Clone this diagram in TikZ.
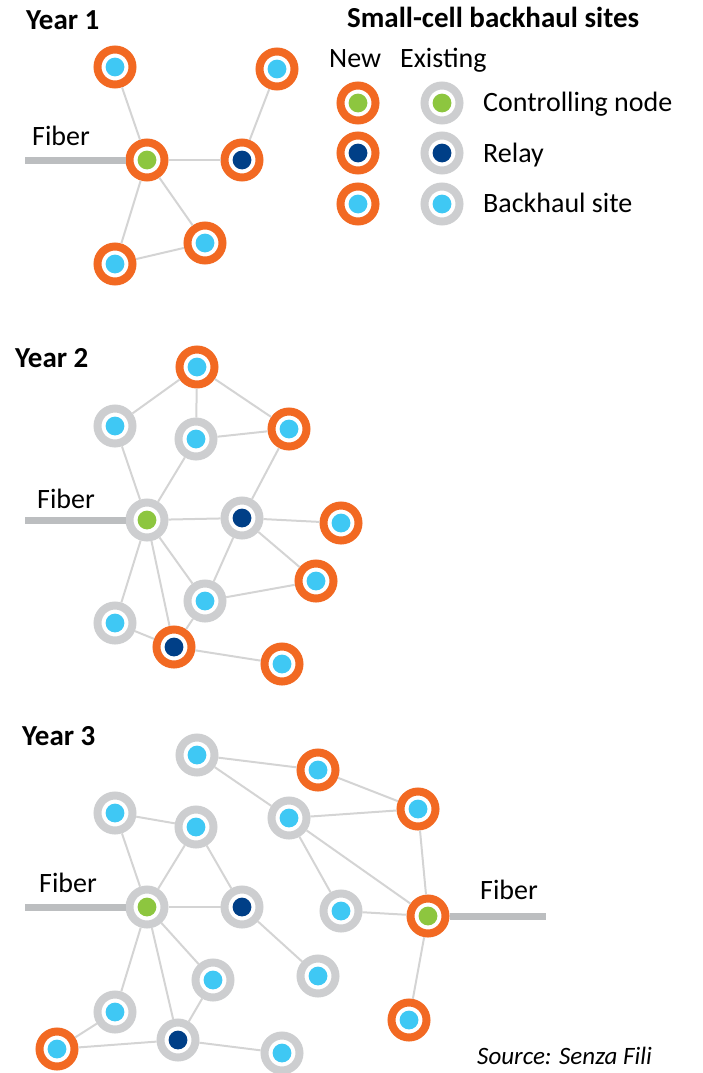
\documentclass[tikz,border=0pt]{standalone}
\usepackage{fontspec}
\setmainfont{Carlito}

\definecolor{ringnew}{HTML}{F26922}
\definecolor{ringold}{HTML}{CDCED0}
\definecolor{dotctrl}{HTML}{8DC63F}
\definecolor{dotrelay}{HTML}{003F87}
\definecolor{dotsite}{HTML}{3FC8F4}
\definecolor{linkgray}{HTML}{D4D4D4}
\definecolor{fibergray}{HTML}{BCBEC0}

\begin{document}
\begin{tikzpicture}[
        x=1pt, y=-1pt,
        % --- Site styles ---
        site/.style={
            circle, inner sep=0pt, minimum size=35pt,
            line width=8pt, fill=white
        },
        newsite/.style={
            site, draw=ringnew,
            path picture={\fill[#1] (path picture bounding box.center) circle (9.4pt);}
        },
        oldsite/.style={
            site, draw=ringold,
            path picture={\fill[#1] (path picture bounding box.center) circle (9.4pt);}
        },
        % --- Line styles ---
        link/.style={draw=linkgray, line width=2pt},
        fiber/.style={draw=fibergray, line width=7pt},
        % --- Text styles ---
        title/.style={anchor=base west, inner sep=0pt, font=\fontsize{29}{34}\selectfont\bfseries},
        label/.style={anchor=base west, inner sep=0pt, font=\fontsize{28}{33}\selectfont},
    ]

    \useasboundingbox (0,0) rectangle (702,1073);

    % ===== Year 1 =====
    \node[title] (t1) at (26, 30) {Year 1};
    \node[label] (f1) at (32, 145) {Fiber};

    \node[newsite=dotsite]  (y1a) at (115, 67)  {};
    \node[newsite=dotsite]  (y1b) at (277, 69)  {};
    \node[newsite=dotctrl]  (y1c) at (147, 160) {};
    \node[newsite=dotrelay] (y1r) at (242, 160) {};
    \node[newsite=dotsite]  (y1d) at (205, 243) {};
    \node[newsite=dotsite]  (y1e) at (115, 264) {};

    \coordinate (y1f) at (25, 160);
    \draw[fiber] (y1f) -- (y1c.west);

    \draw[link] (y1c) -- (y1a);
    \draw[link] (y1c) -- (y1r);
    \draw[link] (y1r) -- (y1b);
    \draw[link] (y1c) -- (y1d);
    \draw[link] (y1c) -- (y1e);
    \draw[link] (y1d) -- (y1e);

    % ===== Legend =====
    \node[title] (lgt) at (347, 28) {Small-cell backhaul sites};
    \node[label] (lgn) at (329, 67) {New};
    \node[label] (lge) at (400, 67) {Existing};

    \node[newsite=dotctrl]  (lgnc) at (358, 103) {};
    \node[newsite=dotrelay] (lgnr) at (358, 153) {};
    \node[newsite=dotsite]  (lgns) at (358, 204) {};
    \node[oldsite=dotctrl]  (lgoc) at (442, 103) {};
    \node[oldsite=dotrelay] (lgor) at (442, 153) {};
    \node[oldsite=dotsite]  (lgos) at (442, 204) {};

    \node[label] (lgc) at (483, 111) {Controlling node};
    \node[label] (lgr) at (483, 162) {Relay};
    \node[label] (lgs) at (483, 212) {Backhaul site};

    % ===== Year 2 =====
    \node[title] (t2) at (15, 367) {Year 2};
    \node[label] (f2) at (37, 508) {Fiber};

    \node[newsite=dotsite]  (y2t) at (197, 367) {};
    \node[oldsite=dotsite]  (y2a) at (115, 426) {};
    \node[oldsite=dotsite]  (y2b) at (196, 439) {};
    \node[newsite=dotsite]  (y2n) at (289, 429) {};
    \node[oldsite=dotctrl]  (y2c) at (147, 520) {};
    \node[oldsite=dotrelay] (y2r) at (242, 518) {};
    \node[newsite=dotsite]  (y2m) at (341, 523) {};
    \node[newsite=dotsite]  (y2o) at (316, 581) {};
    \node[oldsite=dotsite]  (y2d) at (205, 601) {};
    \node[oldsite=dotsite]  (y2e) at (115, 623) {};
    \node[newsite=dotrelay] (y2s) at (174, 647) {};
    \node[newsite=dotsite]  (y2p) at (282, 664) {};

    \coordinate (y2f) at (25, 520);
    \draw[fiber] (y2f) -- (y2c.west);

    \draw[link] (y2t) -- (y2a);
    \draw[link] (y2t) -- (y2b);
    \draw[link] (y2t) -- (y2n);
    \draw[link] (y2b) -- (y2n);
    \draw[link] (y2a) -- (y2c);
    \draw[link] (y2b) -- (y2c);
    \draw[link] (y2n) -- (y2r);
    \draw[link] (y2c) -- (y2r);
    \draw[link] (y2r) -- (y2m);
    \draw[link] (y2r) -- (y2o);
    \draw[link] (y2r) -- (y2d);
    \draw[link] (y2c) -- (y2d);
    \draw[link] (y2c) -- (y2s);
    \draw[link] (y2c) -- (y2e);
    \draw[link] (y2d) -- (y2o);
    \draw[link] (y2d) -- (y2s);
    \draw[link] (y2e) -- (y2s);
    \draw[link] (y2s) -- (y2p);

    % ===== Year 3 =====
    \node[title] (t3) at (22, 745) {Year 3};
    \node[label] (f3) at (39, 892) {Fiber};
    \node[label] (f4) at (480, 899) {Fiber};

    \node[oldsite=dotsite]  (y3a) at (197, 755)  {};
    \node[newsite=dotsite]  (y3n) at (318, 770)  {};
    \node[oldsite=dotsite]  (y3b) at (115, 813)  {};
    \node[oldsite=dotsite]  (y3d) at (196, 827)  {};
    \node[oldsite=dotsite]  (y3e) at (289, 818)  {};
    \node[newsite=dotsite]  (y3m) at (418, 809)  {};
    \node[oldsite=dotctrl]  (y3c) at (147, 907)  {};
    \node[oldsite=dotrelay] (y3r) at (242, 907)  {};
    \node[oldsite=dotsite]  (y3f) at (341, 911)  {};
    \node[newsite=dotctrl]  (y3k) at (428, 916)  {};
    \node[oldsite=dotsite]  (y3g) at (318, 976)  {};
    \node[oldsite=dotsite]  (y3h) at (213, 980)  {};
    \node[oldsite=dotsite]  (y3i) at (115, 1012) {};
    \node[oldsite=dotrelay] (y3s) at (178, 1040) {};
    \node[newsite=dotsite]  (y3p) at (57, 1049)  {};
    \node[oldsite=dotsite]  (y3j) at (282, 1053) {};
    \node[newsite=dotsite]  (y3q) at (409, 1020) {};

    \coordinate (y3f1) at (25, 907);
    \coordinate (y3f2) at (546, 916);
    \draw[fiber] (y3f1) -- (y3c.west);
    \draw[fiber] (y3k.east) -- (y3f2);

    % right cluster
    \draw[link] (y3a) -- (y3n);
    \draw[link] (y3a) -- (y3e);
    \draw[link] (y3n) -- (y3m);
    \draw[link] (y3e) -- (y3m);
    \draw[link] (y3e) -- (y3k);
    \draw[link] (y3e) -- (y3f);
    \draw[link] (y3f) -- (y3k);
    \draw[link] (y3m) -- (y3k);
    \draw[link] (y3k) -- (y3q);

    % left cluster
    \draw[link] (y3b) -- (y3d);
    \draw[link] (y3b) -- (y3c);
    \draw[link] (y3d) -- (y3c);
    \draw[link] (y3d) -- (y3r);
    \draw[link] (y3c) -- (y3r);
    \draw[link] (y3r) -- (y3g);
    \draw[link] (y3c) -- (y3h);
    \draw[link] (y3c) -- (y3s);
    \draw[link] (y3c) -- (y3i);
    \draw[link] (y3h) -- (y3s);
    \draw[link] (y3i) -- (y3p);
    \draw[link] (y3p) -- (y3s);
    \draw[link] (y3s) -- (y3j);

    % ===== Source =====
    \node[label, font=\fontsize{25}{30}\selectfont\itshape] (src) at (477, 1064) {Source: Senza Fili};

\end{tikzpicture}
\end{document}
